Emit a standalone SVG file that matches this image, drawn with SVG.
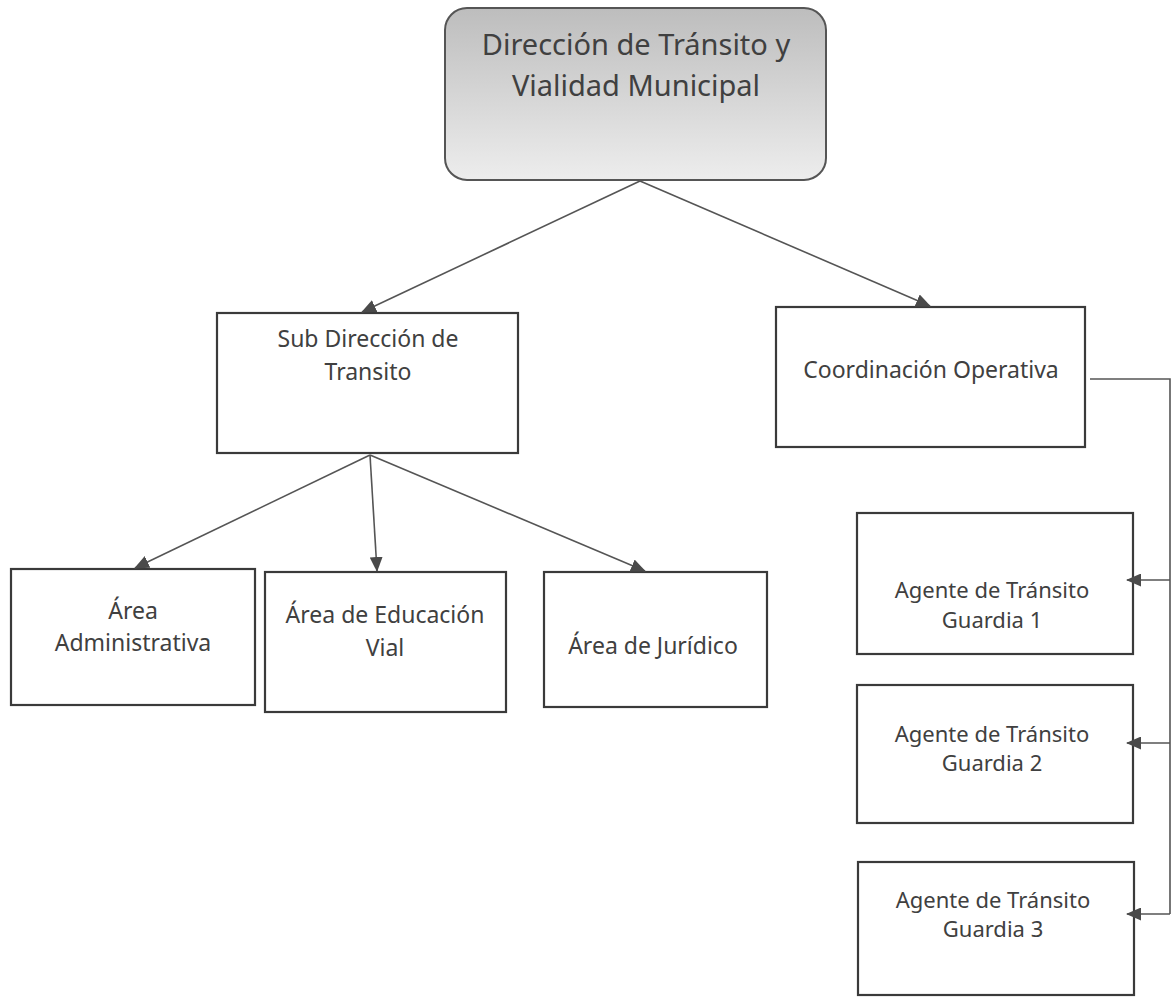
<svg xmlns="http://www.w3.org/2000/svg" width="1173" height="997" viewBox="0 0 1173 997">
<defs>
<linearGradient id="g" x1="0" y1="0" x2="0" y2="1">
<stop offset="0" stop-color="#bdbdbd"/>
<stop offset="1" stop-color="#ededed"/>
</linearGradient>
<marker id="ah" markerWidth="15" markerHeight="13" refX="14" refY="6.5" orient="auto" markerUnits="userSpaceOnUse">
<path d="M0,0 L15,6.5 L0,13 Z" fill="#4a4a4a"/>
</marker>
<style>
.box{fill:#fff;stroke:#3a3a3a;stroke-width:2.2}
.t{font-family:"Noto Sans","Open Sans","Liberation Sans",sans-serif;font-size:23px;fill:#404040;text-anchor:middle}
.tl{font-size:29px}
.tg{font-size:22px}
.c{fill:none;stroke:#555;stroke-width:1.6}
</style>
</defs>
<rect width="1173" height="997" fill="#fff"/>
<g id="direccion">
<rect x="445" y="8" width="381" height="172" rx="22" fill="url(#g)" stroke="#555" stroke-width="2"/>
<text class="t tl" x="636" y="55">Dirección de Tránsito y</text>
<text class="t tl" x="636" y="96">Vialidad Municipal</text>
</g>
<g id="subdireccion">
<rect class="box" x="217" y="313" width="301" height="140"/>
<text class="t" x="368" y="347">Sub Dirección de</text>
<text class="t" x="368" y="380">Transito</text>
</g>
<g id="coordinacion">
<rect class="box" x="776" y="307" width="309" height="140"/>
<text class="t" x="931" y="378">Coordinación Operativa</text>
</g>
<g id="administrativa">
<rect class="box" x="11" y="569" width="244" height="136"/>
<text class="t" x="133" y="619">Área</text>
<text class="t" x="133" y="651">Administrativa</text>
</g>
<g id="educacion">
<rect class="box" x="265" y="572" width="241" height="140"/>
<text class="t" x="385" y="623">Área de Educación</text>
<text class="t" x="385" y="656">Vial</text>
</g>
<g id="juridico">
<rect class="box" x="544" y="572" width="223" height="135"/>
<text class="t" x="653" y="654">Área de Jurídico</text>
</g>
<g id="guardia1">
<rect class="box" x="857" y="513" width="276" height="141"/>
<text class="t tg" x="992" y="598">Agente de Tránsito</text>
<text class="t tg" x="992" y="628">Guardia 1</text>
</g>
<g id="guardia2">
<rect class="box" x="857" y="685" width="276" height="138"/>
<text class="t tg" x="992" y="742">Agente de Tránsito</text>
<text class="t tg" x="992" y="771">Guardia 2</text>
</g>
<g id="guardia3">
<rect class="box" x="858" y="862" width="276" height="133"/>
<text class="t tg" x="993" y="908">Agente de Tránsito</text>
<text class="t tg" x="993" y="937">Guardia 3</text>
</g>
<g id="connectors">
<line class="c" x1="640" y1="181" x2="362" y2="312" marker-end="url(#ah)"/>
<line class="c" x1="640" y1="181" x2="930" y2="306" marker-end="url(#ah)"/>
<line class="c" x1="370" y1="455" x2="135" y2="568" marker-end="url(#ah)"/>
<line class="c" x1="370" y1="455" x2="377" y2="571" marker-end="url(#ah)"/>
<line class="c" x1="370" y1="455" x2="645" y2="571" marker-end="url(#ah)"/>
<polyline class="c" points="1090,379 1170,379 1170,914"/>
<line class="c" x1="1170" y1="580" x2="1127" y2="580" marker-end="url(#ah)"/>
<line class="c" x1="1170" y1="743" x2="1127" y2="743" marker-end="url(#ah)"/>
<line class="c" x1="1170" y1="914" x2="1127" y2="914" marker-end="url(#ah)"/>
</g>
</svg>
